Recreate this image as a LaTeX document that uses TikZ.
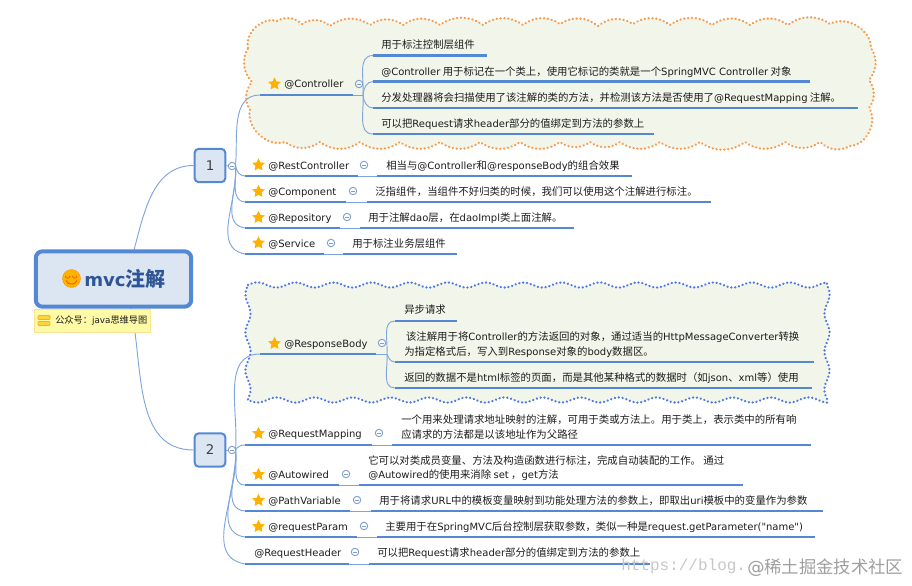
\documentclass[tikz,border=0pt]{standalone}
\usepackage{fontspec}
\setmainfont{Noto Sans CJK SC}
\newfontfamily\latinfont{DejaVu Sans}
\newfontfamily\urlfont{Liberation Mono}
\usetikzlibrary{shapes.geometric}
\newcommand{\la}[1]{{\latinfont\fontsize{7.5}{10}\selectfont #1}}
\definecolor{thick}{HTML}{5488D2}
\definecolor{thin}{HTML}{7FA6DC}
\definecolor{boxfill}{HTML}{DCE6F2}
\definecolor{cloudfill}{HTML}{F2F5EA}
\definecolor{txtc}{HTML}{1C1C1C}
\definecolor{roottxt}{HTML}{2F5597}
\definecolor{starc}{HTML}{FFB000}
\definecolor{orangedot}{HTML}{F79A4B}
\definecolor{bluedot}{HTML}{4C78E4}
\tikzset{
  x=0.75pt,y=-0.75pt,
  under/.style={draw=thick,line width=2.1pt},
  link/.style={draw=thin,line width=0.7pt},
  body/.style={anchor=west,inner sep=0pt,text=txtc,font=\fontsize{7.8}{11}\selectfont,align=left},
  lone/.style={body,text height=7pt,text depth=1.6pt},
  label/.style={lone},
  starmark/.style={star,star points=5,star point ratio=2.05,fill=starc,inner sep=0pt,minimum size=10pt},
  minusmark/.style={circle,draw=thin!85!gray,fill=white,fill opacity=0.35,text opacity=1,line width=0.7pt,minimum size=5.6pt,inner sep=0pt},
  levelbox/.style={draw=thick,line width=1.5pt,fill=boxfill,rounded corners=3pt,minimum width=23pt,minimum height=25pt,inner sep=0pt,font=\latinfont\fontsize{10}{12}\selectfont,text=black!75},
  cloudarc/.style={bend left=36},
  orangedots/.style={draw=orangedot,fill=cloudfill,line width=1.9pt,line cap=round,dash pattern=on 0.01pt off 2.9pt},
  bluedots/.style={draw=bluedot,fill=cloudfill,line width=1.9pt,line cap=round,dash pattern=on 0.01pt off 2.9pt},
}
% name, x start, x end, y
\newcommand{\topicline}[4]{\coordinate (#1-l) at (#2,#4);\coordinate (#1-r) at (#3,#4);\draw[under] (#1-l) -- (#1-r);}
% name, centre x, centre y
\newcommand{\minusdot}[3]{\node[minusmark] (#1) at (#2,#3) {};\draw[draw=thin!85!gray,line width=0.6pt] ([xshift=-1.6pt]#1.center) -- ([xshift=1.6pt]#1.center);}
\begin{document}
\begin{tikzpicture}
\useasboundingbox (0,0) rectangle (912,585);
% clouds
\path[orangedots] (248,48) to[bend left=60] (277,21) to[cloudarc] (302,24) to[cloudarc] (330,26) to[cloudarc] (370,25) to[cloudarc] (403,25) to[cloudarc] (440,25) to[cloudarc] (483,25) to[cloudarc] (523,25) to[cloudarc] (560,24) to[cloudarc] (598,26) to[cloudarc] (633,24) to[cloudarc] (670,25) to[cloudarc] (712,25) to[cloudarc] (750,25) to[cloudarc] (788,25) to[cloudarc] (830,24) to[bend left=60] (871,48) to[cloudarc] (869,80) to[cloudarc] (869,108) to[bend left=60] (850,146) to[cloudarc] (820,142) to[cloudarc] (785,142) to[cloudarc] (745,142) to[cloudarc] (700,142) to[cloudarc] (660,142) to[cloudarc] (620,142) to[cloudarc] (590,142) to[cloudarc] (560,142) to[cloudarc] (520,142) to[cloudarc] (480,142) to[cloudarc] (440,142) to[cloudarc] (400,142) to[cloudarc] (360,142) to[cloudarc] (320,142) to[cloudarc] (285,142) to[bend left=60] (250,110) to[cloudarc] (252,82) to[cloudarc] (248,48) -- cycle;
\path[bluedots] plot[domain=248:827,samples=160] (\x,{285-2.6*sin(9.47*(\x-248))})
  -- plot[domain=285:400,samples=40] ({827+2.6*sin(9.47*(\x-285))},\x)
  -- plot[domain=827:248,samples=160] (\x,{400+2.6*sin(9.47*(\x-248))})
  -- plot[domain=400:285,samples=40] ({248-2.6*sin(9.47*(\x-285))},\x) -- cycle;
% root and level boxes
\coordinate (rootbottom) at (131,308);
\coordinate (rootup) at (134,250);
\node[levelbox] (one) at (210,165.5) {1};
\node[levelbox] (two) at (210,450) {2};
\draw[link] (rootup) to[out=75,in=180] (one.west);
\draw[link] (rootbottom) to[out=-78,in=180] (two.west);
\node[draw=thick,line width=3pt,fill=boxfill,rounded corners=5pt,minimum width=116.5pt,minimum height=41.5pt,inner sep=0pt] (root) at (113.5,279) {};
\node[anchor=west,inner sep=0pt,text=roottxt] (roottext) at (84,279) {\fontsize{15}{18}\selectfont\bfseries{\latinfont\fontsize{13.6}{18}\selectfont\bfseries mvc}注解};
% smiley
\node[circle,fill=orange!60!yellow,draw=orange!85!yellow,line width=0.3pt,minimum size=13.5pt,inner sep=0pt] (smile) at (71.5,278.5) {};
\draw[orange!60!red,line width=0.5pt] (65.5,276) arc[start angle=180,end angle=0,radius=2.2];
\draw[orange!60!red,line width=0.5pt] (72.5,276) arc[start angle=180,end angle=0,radius=2.2];
\draw[orange!60!red,line width=0.6pt] (66,280.5) arc[start angle=190,end angle=350,x radius=5.5,y radius=-4.5];
% note
\node[anchor=north west,fill=yellow!35,draw=yellow!50!orange!40,line width=0.3pt,minimum width=87.5pt,minimum height=17.5pt,inner sep=0pt] (notebox) at (33.5,308.5) {};
\node[anchor=west,inner sep=0pt,font=\fontsize{6.9}{9}\selectfont,text=txtc] (notetext) at (55,321) {公众号：\la{\fontsize{6.6}{9}\selectfont java}思维导图};
\draw[fill=yellow!60!orange!75,draw=orange!60!yellow,line width=0.4pt,rounded corners=0.5pt] (38,315.5) rectangle (50,319.5);
\draw[fill=yellow!60!orange!75,draw=orange!60!yellow,line width=0.4pt,rounded corners=0.5pt] (38,321.5) rectangle (50,325.5);

% ---- branch 1
\minusdot{m1}{232}{166}
\coordinate (hub1) at (235.5,166);
\draw[link] (one.east) -- (m1.west);
\topicline{ctl}{260}{353}{95}
\topicline{rest}{245}{358}{176}
\topicline{comp}{245}{346}{202}
\topicline{repo}{245}{340}{228}
\topicline{serv}{245}{324}{254}
\draw[link] (hub1) to[out=85,in=180] (ctl-l);
\draw[link] (hub1) to[out=-80,in=180] (rest-l);
\draw[link] (hub1) to[out=-85,in=175] (comp-l);
\draw[link] (hub1) to[out=-85,in=172] (repo-l);
\draw[link] (hub1) to[out=-85,in=170] (serv-l);

\node[starmark] (s-ctl) at (274.5,84) {};
\node[label] (t-ctl) at (284,84) {\la{@Controller}};
\minusdot{m-ctl}{359}{84}
\coordinate (hub-ctl) at (363,95);
\draw[link] (ctl-r) -- (hub-ctl);
\topicline{c1}{373}{487}{55.5}
\topicline{c2}{373}{810}{81.5}
\topicline{c3}{373}{858}{108}
\topicline{c4}{373}{654}{134}
\draw[link] (hub-ctl) to[out=85,in=180] (c1-l);
\draw[link] (hub-ctl) to[out=85,in=180] (c2-l);
\draw[link] (hub-ctl) to[out=-85,in=180] (c3-l);
\draw[link] (hub-ctl) to[out=-85,in=180] (c4-l);
\node[lone] (t-c1) at (381,45) {用于标注控制层组件};
\node[lone] (t-c2) at (381,71.5) {\la{@Controller} 用于标记在一个类上，使用它标记的类就是一个\la{SpringMVC Controller} 对象};
\node[lone] (t-c3) at (381,97.5) {分发处理器将会扫描使用了该注解的类的方法，并检测该方法是否使用了\la{@RequestMapping} 注解。};
\node[lone] (t-c4) at (381,123.5) {可以把\la{Request}请求\la{header}部分的值绑定到方法的参数上};

\node[starmark] (s-rest) at (258.5,165) {};
\node[label] (t-rest) at (268,165.5) {\la{@RestController}};
\minusdot{m-rest}{364}{165}
\topicline{rest2}{377}{632}{176}
\draw[link] (rest-r) -- (rest2-l);
\node[lone] (d-rest) at (386,165.5) {相当与\la{@Controller}和\la{@responseBody}的组合效果};

\node[starmark] (s-comp) at (258.5,191.5) {};
\node[label] (t-comp) at (268,192) {\la{@Component}};
\minusdot{m-comp}{353}{191}
\topicline{comp2}{367}{711}{202}
\draw[link] (comp-r) -- (comp2-l);
\node[lone] (d-comp) at (375,191.5) {泛指组件，当组件不好归类的时候，我们可以使用这个注解进行标注。};

\node[starmark] (s-repo) at (258.5,217.5) {};
\node[label] (t-repo) at (268,218) {\la{@Repository}};
\minusdot{m-repo}{347}{217}
\topicline{repo2}{360}{574}{228}
\draw[link] (repo-r) -- (repo2-l);
\node[lone] (d-repo) at (368,217.5) {用于注解\la{dao}层，在\la{daoImpl}类上面注解。};

\node[starmark] (s-serv) at (258.5,243) {};
\node[label] (t-serv) at (268,244) {\la{@Service}};
\minusdot{m-serv}{331}{243}
\topicline{serv2}{343}{457}{254}
\draw[link] (serv-r) -- (serv2-l);
\node[lone] (d-serv) at (352,243.5) {用于标注业务层组件};

% ---- branch 2
\minusdot{m2}{232}{450}
\coordinate (hub2) at (235.5,450);
\draw[link] (two.east) -- (m2.west);
\topicline{resp}{260}{376}{354}
\topicline{map}{245}{372}{445}
\topicline{auto}{245}{339}{485}
\topicline{path}{245}{350}{511}
\topicline{para}{245}{357}{537}
\topicline{head}{245}{349}{564}
\draw[link] (hub2) to[out=85,in=180] (resp-l);
\draw[link] (hub2) to[out=60,in=180] (map-l);
\draw[link] (hub2) to[out=-80,in=180] (auto-l);
\draw[link] (hub2) to[out=-85,in=175] (path-l);
\draw[link] (hub2) to[out=-85,in=172] (para-l);
\draw[link] (hub2) to[out=-85,in=170] (head-l);

\node[starmark] (s-resp) at (274.5,343.5) {};
\node[label] (t-resp) at (284,344) {\la{@ResponseBody}};
\minusdot{m-resp}{382}{343}
\coordinate (hub-resp) at (387,354);
\draw[link] (resp-r) -- (hub-resp);
\topicline{r1}{395}{457}{321}
\topicline{r2}{395}{814}{362}
\topicline{r3}{395}{812}{388}
\draw[link] (hub-resp) to[out=85,in=180] (r1-l);
\draw[link] (hub-resp) to[out=-70,in=180] (r2-l);
\draw[link] (hub-resp) to[out=-85,in=180] (r3-l);
\node[lone] (t-r1) at (404,310) {异步请求};
\node[body] (t-r2) at (404,344.5) {\,该注解用于将\la{Controller}的方法返回的对象，通过适当的\la{HttpMessageConverter}转换\\为指定格式后，写入到\la{Response}对象的\la{body}数据区。};
\node[lone] (t-r3) at (404,378) {返回的数据不是\la{html}标签的页面，而是其他某种格式的数据时（如\la{json}、\la{xml}等）使用};

\node[starmark] (s-map) at (258.5,433.5) {};
\node[label] (t-map) at (268,434) {\la{@RequestMapping}};
\minusdot{m-map}{379}{433}
\topicline{map2}{392}{811}{445}
\draw[link] (map-r) -- (map2-l);
\node[body] (d-map) at (401,427) {一个用来处理请求地址映射的注解，可用于类或方法上。用于类上，表示类中的所有响\\应请求的方法都是以该地址作为父路径};

\node[starmark] (s-auto) at (258.5,474.5) {};
\node[label] (t-auto) at (268,475) {\la{@Autowired}};
\minusdot{m-auto}{346}{474}
\topicline{auto2}{359}{743}{485}
\draw[link] (auto-r) -- (auto2-l);
\node[body] (d-auto) at (368,468) {它可以对类成员变量、方法及构造函数进行标注，完成自动装配的工作。 通过\\\la{@Autowired}的使用来消除 \la{set} ，\la{get}方法};

\node[starmark] (s-path) at (258.5,500.5) {};
\node[label] (t-path) at (268,501) {\la{@PathVariable}};
\minusdot{m-path}{357}{500}
\topicline{path2}{371}{823}{511}
\draw[link] (path-r) -- (path2-l);
\node[lone] (d-path) at (379,500.5) {用于将请求\la{URL}中的模板变量映射到功能处理方法的参数上，即取出\la{uri}模板中的变量作为参数};

\node[starmark] (s-para) at (258.5,526.5) {};
\node[label] (t-para) at (268,527) {\la{@requestParam}};
\minusdot{m-para}{364}{526}
\topicline{para2}{377}{815}{537}
\draw[link] (para-r) -- (para2-l);
\node[lone] (d-para) at (385,527) {主要用于在\la{SpringMVC}后台控制层获取参数，类似一种是\la{request.getParameter("name")}};

\node[label] (t-head) at (254,553) {\la{@RequestHeader}};
\minusdot{m-head}{355}{552}
\topicline{head2}{369}{650}{564}
\draw[link] (head-r) -- (head2-l);
\node[lone] (d-head) at (377,552.5) {可以把\la{Request}请求\la{header}部分的值绑定到方法的参数上};

% watermark
\node[anchor=west,inner sep=0pt,text=black!22,font=\urlfont\fontsize{12}{14}\selectfont] (wm1) at (621,566) {https://blog.};
\node[anchor=west,inner sep=0pt,text=black!38,font=\fontsize{13}{15}\selectfont] (wm2) at (747,568) {{\latinfont @}稀土掘金技术社区};
\end{tikzpicture}
\end{document}
